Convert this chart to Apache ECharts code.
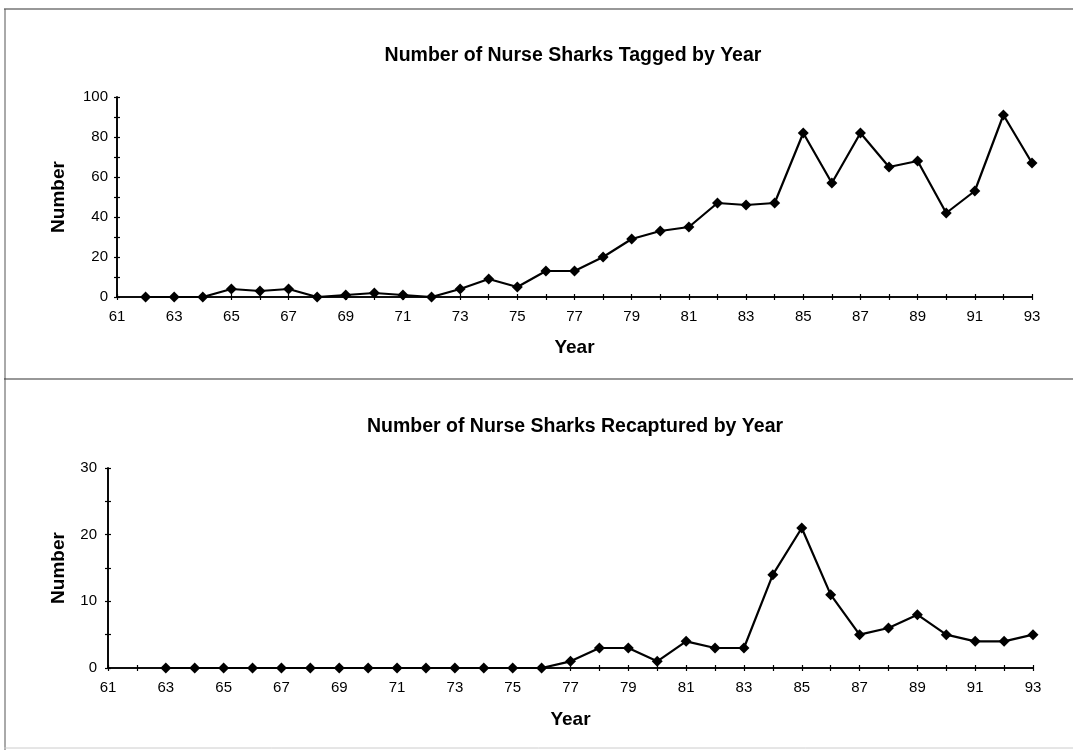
<!DOCTYPE html>
<html>
<head>
<meta charset="utf-8">
<script src="https://cdn.jsdelivr.net/npm/echarts@6/dist/echarts.min.js"></script>
<style>
html,body{margin:0;padding:0;background:#fff;}
#c{width:1073px;height:750px;}
</style>
</head>
<body>
<div id="c"></div>
<script>
// ---- Data ----
const taggedYears = [62,63,64,65,66,67,68,69,70,71,72,73,74,75,76,77,78,79,80,81,82,83,84,85,86,87,88,89,90,91,92,93];
const taggedValues = [0,0,0,4,3,4,0,1,2,1,0,4,9,5,13,13,20,29,33,35,47,46,47,82,57,82,65,68,42,53,91,67];
const recapYears = [63,64,65,66,67,68,69,70,71,72,73,74,75,76,77,78,79,80,81,82,83,84,85,86,87,88,89,90,91,92,93];
const recapValues = [0,0,0,0,0,0,0,0,0,0,0,0,0,0,1,3,3,1,4,3,3,14,21,11,5,6,8,5,4,4,5];
const titleTop = 'Number of Nurse Sharks Tagged by Year';
const titleBottom = 'Number of Nurse Sharks Recaptured by Year';
const xName = 'Year';
const yName = 'Number';

const FONT = '"Liberation Sans", Arial, sans-serif';
const INK = '#000';

const chart = echarts.init(document.getElementById('c'), null, {renderer: 'canvas'});

function xAxisDef(gridIndex, primary, gap) {
  return {
    type: 'value', gridIndex: gridIndex, min: 61, max: 93, interval: 2,
    position: 'bottom',
    name: primary ? xName : '', nameLocation: 'middle', nameGap: gap,
    nameTextStyle: {fontFamily: FONT, fontWeight: 'bold', fontSize: 19, color: INK},
    axisLine: {show: true, onZero: false, lineStyle: {color: INK, width: 1.6}},
    axisTick: {show: true, inside: !primary, length: 3, lineStyle: {color: INK, width: 1.2}},
    minorTick: {show: true, splitNumber: 2, length: 3, lineStyle: {color: INK, width: 1.2}},
    axisLabel: {show: primary, margin: 12, fontFamily: FONT, fontSize: 15, color: INK},
    splitLine: {show: false}, minorSplitLine: {show: false}
  };
}
function yAxisDef(gridIndex, primary, max, interval, gap, margin) {
  return {
    type: 'value', gridIndex: gridIndex, min: 0, max: max, interval: interval,
    position: 'left',
    name: primary ? yName : '', nameLocation: 'middle', nameGap: gap, nameRotate: 90,
    nameTextStyle: {fontFamily: FONT, fontWeight: 'bold', fontSize: 19, color: INK},
    axisLine: {show: true, lineStyle: {color: INK, width: 1.6}},
    axisTick: {show: true, inside: !primary, length: 3, lineStyle: {color: INK, width: 1.2}},
    minorTick: {show: true, splitNumber: 2, length: 3, lineStyle: {color: INK, width: 1.2}},
    axisLabel: {show: primary, margin: margin, fontFamily: FONT, fontSize: 15, color: INK},
    splitLine: {show: false}, minorSplitLine: {show: false}
  };
}
function seriesDef(idx, years, vals) {
  return {
    type: 'line', xAxisIndex: idx * 2, yAxisIndex: idx * 2,
    data: years.map((y, i) => [y, vals[i]]),
    symbol: 'diamond', symbolSize: 11, showSymbol: true,
    lineStyle: {color: INK, width: 2.2}, itemStyle: {color: INK},
    animation: false, z: 5
  };
}

chart.setOption({
  animation: false,
  backgroundColor: '#fff',
  title: [
    {text: titleTop, left: 568, top: 41, textAlign: 'center',
     textStyle: {fontFamily: FONT, fontWeight: 'bold', fontSize: 19.5, color: INK}},
    {text: titleBottom, left: 570, top: 412, textAlign: 'center',
     textStyle: {fontFamily: FONT, fontWeight: 'bold', fontSize: 19.5, color: INK}}
  ],
  grid: [
    {left: 117, right: 41, top: 97, bottom: 453},
    {left: 108, right: 40, top: 468, bottom: 82}
  ],
  xAxis: [xAxisDef(0, true, 41), xAxisDef(0, false, 0), xAxisDef(1, true, 42), xAxisDef(1, false, 0)],
  yAxis: [yAxisDef(0, true, 100, 20, 49, 9), yAxisDef(0, false, 100, 20, 0, 9),
          yAxisDef(1, true, 30, 10, 40, 11), yAxisDef(1, false, 30, 10, 0, 11)],
  series: [seriesDef(0, taggedYears, taggedValues), seriesDef(1, recapYears, recapValues)],
  graphic: [
    {type: 'line', shape: {x1: 4, y1: 9, x2: 1073, y2: 9}, style: {stroke: '#333', lineWidth: 1.2}},
    {type: 'line', shape: {x1: 5, y1: 9, x2: 5, y2: 750}, style: {stroke: '#555', lineWidth: 1}},
    {type: 'line', shape: {x1: 4, y1: 379, x2: 1073, y2: 379}, style: {stroke: '#333', lineWidth: 1.2}},
    {type: 'line', shape: {x1: 4, y1: 748, x2: 1073, y2: 748}, style: {stroke: '#ccc', lineWidth: 1}}
  ]
});
</script>
</body>
</html>
